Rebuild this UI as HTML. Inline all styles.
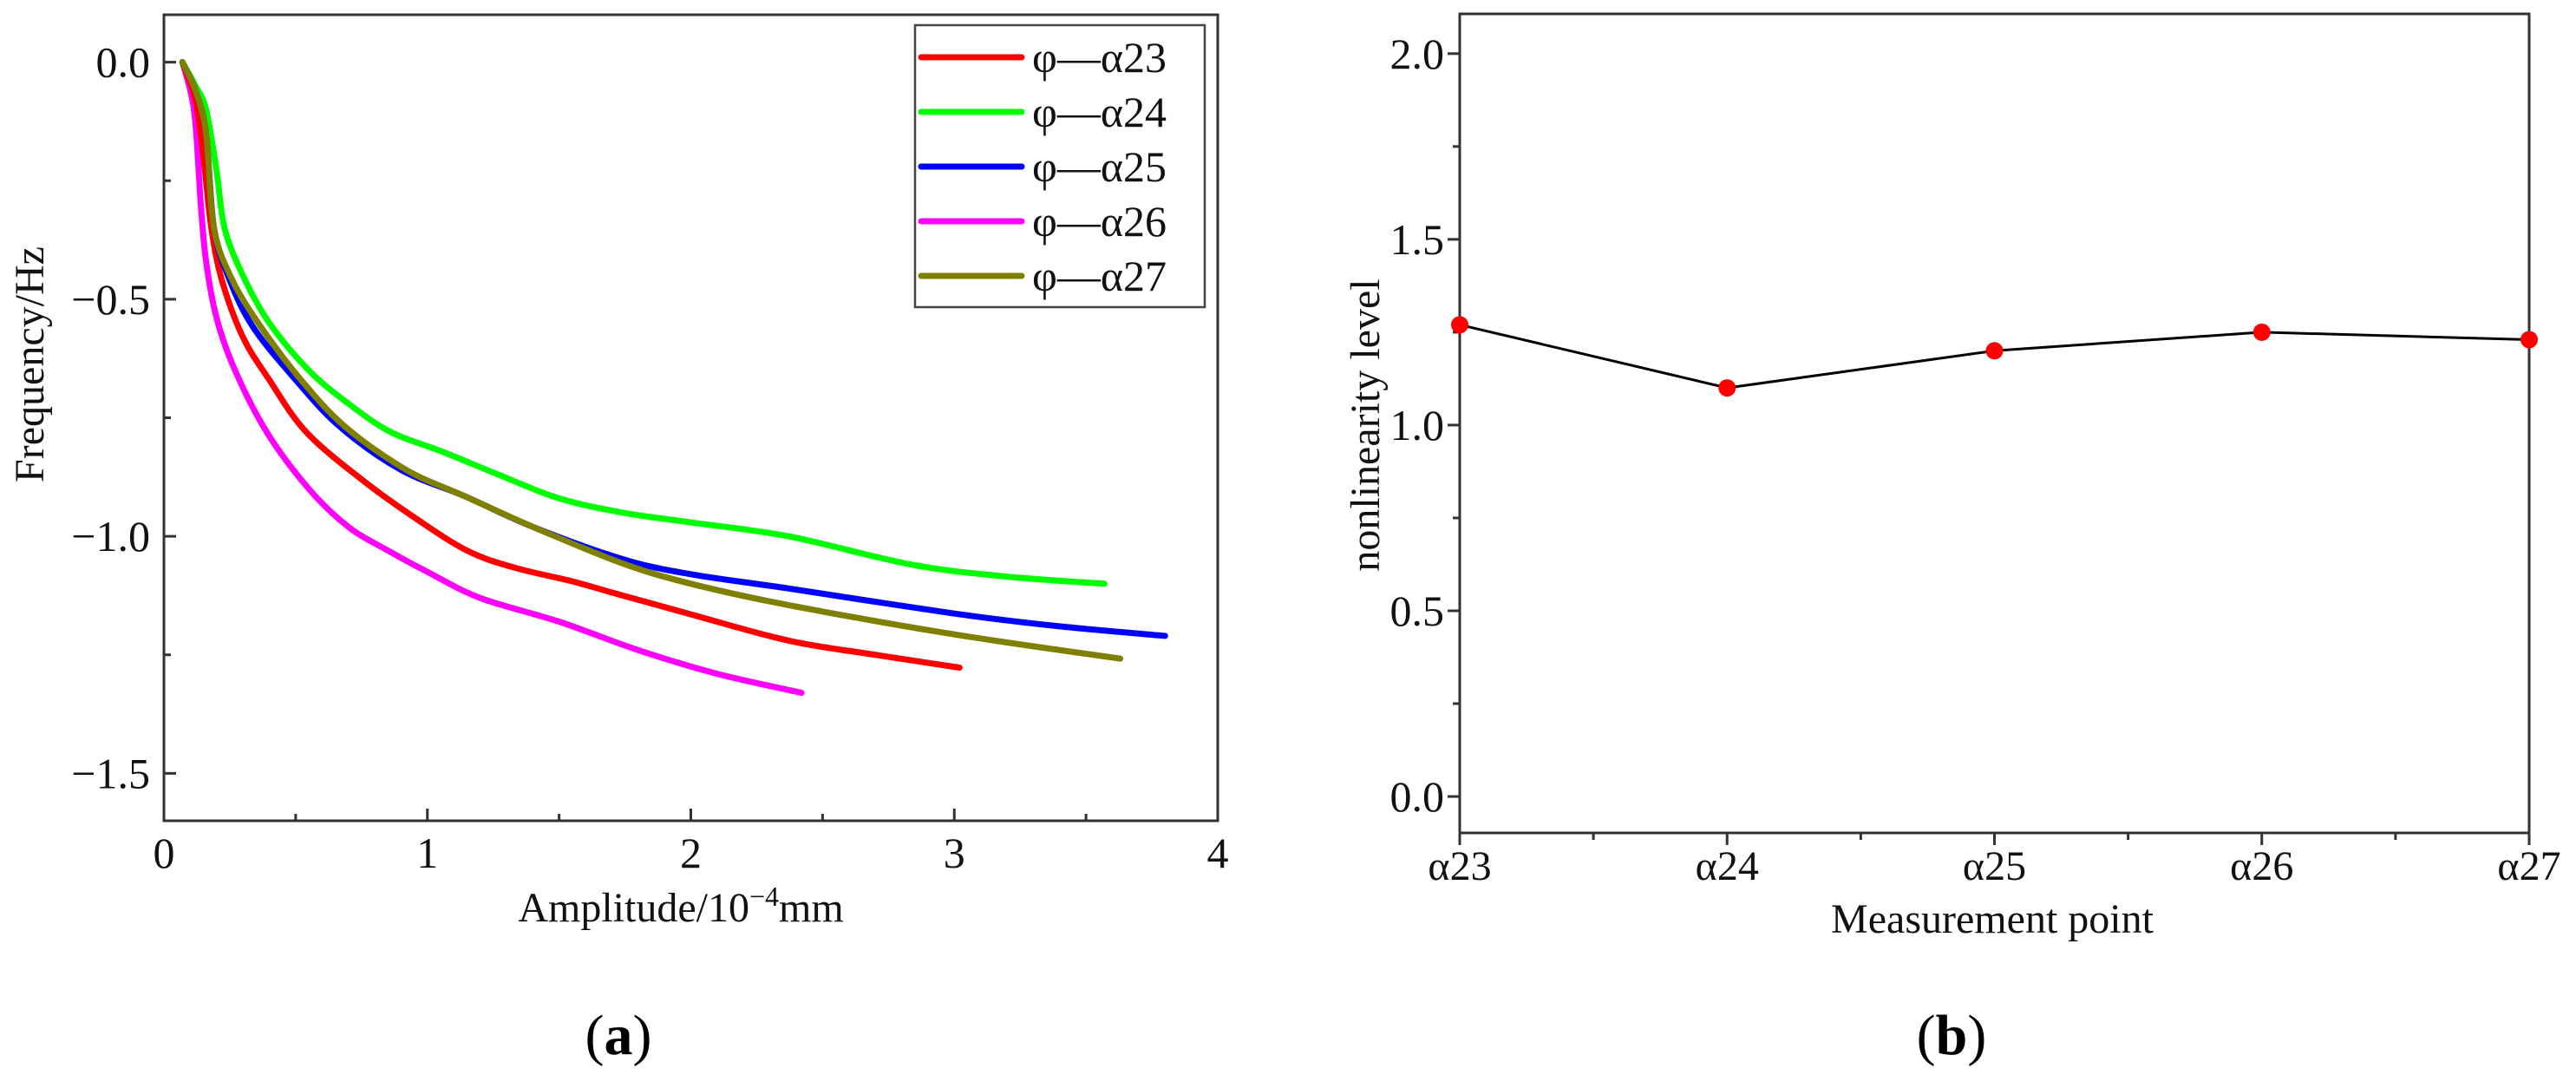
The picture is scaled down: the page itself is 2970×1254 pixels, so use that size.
<!DOCTYPE html>
<html><head><meta charset="utf-8"><style>
html,body{margin:0;padding:0;background:#fff;}
svg{display:block;}
svg text{font-family:"Liberation Serif","DejaVu Serif",serif;}
</style></head><body>
<svg id="fig" width="2970" height="1254" viewBox="0 0 2970 1254" xmlns="http://www.w3.org/2000/svg">
<g id="chartA"></g>
<g id="chartB"></g>
</svg>
<script>
// ---- Chart (a) data ----
const seriesNames = ["φ—α23","φ—α24","φ—α25","φ—α26","φ—α27"];
const seriesColors = ["#ff0000","#00ff00","#0000ff","#ff00ff","#808000"];
const redX = [.07,.12,.15,.18,.22,.3,.4,.54,.75,.95,1.15,1.33,1.55,1.71,1.99,2.37,2.7,3.02];
const redY = [0,-.08,-.2,-.35,-.46,-.58,-.67,-.78,-.88,-.96,-1.03,-1.066,-1.095,-1.12,-1.163,-1.22,-1.25,-1.277];
const greenX = [.07,.12,.16,.20,.23,.3,.4,.55,.7,.86,1.05,1.27,1.5,1.74,1.99,2.37,2.84,3.2,3.57];
const greenY = [0,-.05,-.10,-.23,-.35,-.45,-.55,-.65,-.72,-.78,-.82,-.87,-.92,-.95,-.97,-1.0,-1.06,-1.085,-1.10];
const blueX = [.07,.12,.16,.19,.25,.34,.5,.67,.9,1.14,1.4,1.74,2.0,2.37,3.0,3.4,3.80];
const blueY = [0,-.06,-.15,-.35,-.46,-.56,-.67,-.77,-.86,-.915,-.98,-1.048,-1.08,-1.11,-1.163,-1.19,-1.21];
const magentaX = [.07,.10,.12,.14,.16,.2,.27,.39,.55,.7,.85,1.0,1.2,1.5,1.8,2.1,2.42];
const magentaY = [0,-.06,-.13,-.3,-.42,-.54,-.65,-.78,-.9,-.98,-1.03,-1.075,-1.13,-1.18,-1.24,-1.29,-1.33];
const oliveX = [.07,.12,.16,.19,.26,.37,.52,.69,.92,1.14,1.4,1.74,2.0,2.37,3.0,3.63];
const oliveY = [0,-.06,-.15,-.35,-.46,-.56,-.67,-.77,-.86,-.915,-.98,-1.057,-1.1,-1.145,-1.207,-1.258];
const aXTicks = ["0","1","2","3","4"];
const aYTicks = ["0.0","-0.5","-1.0","-1.5"];
// ---- Chart (b) data ----
const points = ["α23","α24","α25","α26","α27"];
const levels = [1.27,1.10,1.20,1.25,1.23];
const bYTicks = ["0.0","0.5","1.0","1.5","2.0"];

const NS="http://www.w3.org/2000/svg";
function mk(parent,tag,attrs,text){const e=document.createElementNS(NS,tag);for(const k in attrs)e.setAttribute(k,attrs[k]);if(text!==undefined)e.textContent=text;parent.appendChild(e);return e;}
function smooth(pts){
  let d='M'+pts[0][0].toFixed(1)+','+pts[0][1].toFixed(1);
  for(let i=0;i<pts.length-1;i++){
    const p0=pts[Math.max(0,i-1)],p1=pts[i],p2=pts[i+1],p3=pts[Math.min(pts.length-1,i+2)];
    const c1=[p1[0]+(p2[0]-p0[0])/6,p1[1]+(p2[1]-p0[1])/6];
    const c2=[p2[0]-(p3[0]-p1[0])/6,p2[1]-(p3[1]-p1[1])/6];
    d+=' C'+c1[0].toFixed(1)+','+c1[1].toFixed(1)+' '+c2[0].toFixed(1)+','+c2[1].toFixed(1)+' '+p2[0].toFixed(1)+','+p2[1].toFixed(1);
  }
  return d;
}

// ===== Chart A =====
const A=document.getElementById('chartA');
const aL=189,aR=1404,aT=17,aB=946;
const ax=v=>aL+(v-0)/(4-0)*(aR-aL);
const ay=v=>aT+(0.1-v)/(0.1-(-1.6))*(aB-aT);
const seriesX=[redX,greenX,blueX,magentaX,oliveX];
const seriesY=[redY,greenY,blueY,magentaY,oliveY];
const drawOrder=[3,0,1,2,4];
drawOrder.forEach(i=>{
  const pts=seriesX[i].map((x,j)=>[ax(x),ay(seriesY[i][j])]);
  const p=mk(A,'path',{d:smooth(pts),fill:'none',stroke:seriesColors[i],'stroke-width':7,'stroke-linejoin':'round','stroke-linecap':'round'});
  
  
});
const fa=mk(A,'rect',{x:aL,y:aT,width:aR-aL,height:aB-aT,fill:'none',stroke:'#333',"stroke-width":3});


aXTicks.forEach((t,i)=>{
  const v=parseFloat(t),x=ax(v);
  mk(A,'line',{x1:x,y1:aB,x2:x,y2:aB-14,stroke:'#333','stroke-width':3});
  const tx=mk(A,'text',{x:x,y:aB+54,'font-size':50,'text-anchor':'middle',fill:'#111'},t);
  
  
  if(i<aXTicks.length-1){const xm=ax(v+0.5);mk(A,'line',{x1:xm,y1:aB,x2:xm,y2:aB-8,stroke:'#333','stroke-width':3});}
});
aYTicks.forEach((t,i)=>{
  const v=parseFloat(t),y=ay(v);
  mk(A,'line',{x1:aL,y1:y,x2:aL+14,y2:y,stroke:'#333','stroke-width':3});
  const ty=mk(A,'text',{x:aL-16,y:y+17,'font-size':50,'text-anchor':'end',fill:'#111'},t.replace('-','−'));
  
  
  if(i<aYTicks.length-1){const ym=ay(v-0.25);mk(A,'line',{x1:aL,y1:ym,x2:aL+8,y2:ym,stroke:'#333','stroke-width':3});}
});
let t1=mk(A,'text',{x:785,y:1062,'font-size':48,'text-anchor':'middle',fill:'#111'});
t1.innerHTML='Amplitude/10<tspan dy="-18" font-size="32">−4</tspan><tspan dy="18">mm</tspan>';


let t2=mk(A,'text',{x:0,y:0,'font-size':48,'text-anchor':'middle',fill:'#111',transform:'translate(50,420) rotate(-90)'},'Frequency/Hz');


const lg=mk(A,'g',{});


mk(lg,'rect',{x:1055,y:29,width:334,height:325,fill:'#fff',stroke:'#444','stroke-width':2.5});
seriesNames.forEach((n,i)=>{
  const y=66+i*63;
  const le=mk(lg,'g',{});
  
  
  mk(le,'line',{x1:1062,y1:y,x2:1178,y2:y,stroke:seriesColors[i],'stroke-width':7,'stroke-linecap':'round'});
  mk(le,'text',{x:1190,y:y+17,'font-size':50,fill:'#111'},n);
});
let la=mk(A,'text',{x:713,y:1215,'font-size':66,'text-anchor':'middle',fill:'#000'});
la.innerHTML='(<tspan font-weight="bold">a</tspan>)';



// ===== Chart B =====
const B=document.getElementById('chartB');
const bL=1683,bR=2916,bT=16,bB=960;
const bx=i=>bL+i/(points.length-1)*(bR-bL);
const by=v=>bT+(2.107-v)/(2.107-(-0.098))*(bB-bT);
const fb=mk(B,'rect',{x:bL,y:bT,width:bR-bL,height:bB-bT,fill:'none',stroke:'#333','stroke-width':3});


points.forEach((p,i)=>{
  const x=bx(i);
  mk(B,'line',{x1:x,y1:bB,x2:x,y2:bB+14,stroke:'#333','stroke-width':3});
  const tx=mk(B,'text',{x:x,y:bB+54,'font-size':48,'text-anchor':'middle',fill:'#111'},p);
  
  
  if(i<points.length-1){const xm=(bx(i)+bx(i+1))/2;mk(B,'line',{x1:xm,y1:bB,x2:xm,y2:bB+8,stroke:'#333','stroke-width':3});}
});
bYTicks.forEach((t,i)=>{
  const v=parseFloat(t),y=by(v);
  mk(B,'line',{x1:bL,y1:y,x2:bL-14,y2:y,stroke:'#333','stroke-width':3});
  const ty=mk(B,'text',{x:bL-18,y:y+17,'font-size':50,'text-anchor':'end',fill:'#111'},t);
  
  
  if(i<bYTicks.length-1){const ym=by(v+0.25);mk(B,'line',{x1:bL,y1:ym,x2:bL-8,y2:ym,stroke:'#333','stroke-width':3});}
});
const ld=levels.map((v,i)=>(i?'L':'M')+bx(i).toFixed(1)+','+by(v).toFixed(1)).join(' ');
const ln=mk(B,'path',{d:ld,fill:'none',stroke:'#000','stroke-width':3});


levels.forEach((v,i)=>{
  const c=mk(B,'circle',{cx:bx(i),cy:by(v),r:10,fill:'#ff0000'});
  
  
});
let t3=mk(B,'text',{x:2297,y:1075,'font-size':48,'text-anchor':'middle',fill:'#111'},'Measurement point');


let t4=mk(B,'text',{x:0,y:0,'font-size':48,'text-anchor':'middle',fill:'#111',transform:'translate(1590,490) rotate(-90)'},'nonlinearity level');


let lb=mk(B,'text',{x:2250,y:1215,'font-size':66,'text-anchor':'middle',fill:'#000'});
lb.innerHTML='(<tspan font-weight="bold">b</tspan>)';


</script>
</body></html>
